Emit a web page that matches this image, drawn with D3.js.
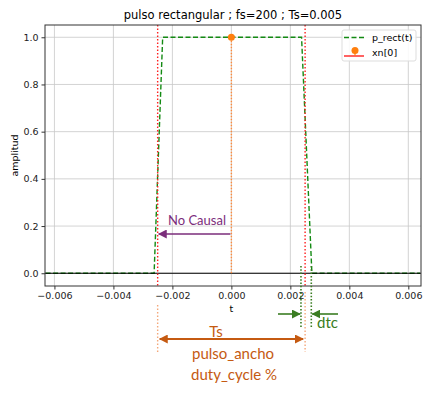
<!DOCTYPE html>
<html>
<head>
<meta charset="utf-8">
<script src="https://cdn.jsdelivr.net/npm/d3@7"></script>
<style>
  body { margin: 0; background: #fff; }
  svg { display: block; }
  .tick text { font-family: "DejaVu Sans", sans-serif; font-size: 9.5px; fill: #222; }
  .note { font-family: Lato, "Open Sans", sans-serif; }
</style>
</head>
<body>
<div id="chart"></div>
<script>
// pulse as drawn (p_rect(t))
const pulseT = [-0.0063, -0.00262, -0.00233, 0.00238, 0.00273, 0.0064];
const pulseV = [0, 0, 1, 1, 0, 0];
// single sample xn[0]
const stemT = [0];
const stemV = [1];
// pulse edges +/- Ts/2
const edges = [-0.0025, 0.0025];
// dtc marks
const dtcT = [0.00236, 0.00271];

const xTicks = [-0.006, -0.004, -0.002, 0, 0.002, 0.004, 0.006];
const yTicks = [0, 0.2, 0.4, 0.6, 0.8, 1.0];

const width = 434, height = 394;
const pL = 45, pR = 421, pT = 25, pB = 286;

const svg = d3.select("#chart").append("svg")
  .attr("width", width)
  .attr("height", height);

const x = d3.scaleLinear().domain([-0.00632, 0.00643]).range([pL, pR]);
const y = d3.scaleLinear().domain([-0.054, 1.052]).range([pB, pT]);

const defs = svg.append("defs");
function marker(id, color, size) {
  defs.append("marker")
    .attr("id", id)
    .attr("viewBox", "0 -5 10 10")
    .attr("refX", 9)
    .attr("refY", 0)
    .attr("orient", "auto-start-reverse")
    .attr("markerUnits", "userSpaceOnUse")
    .attr("markerWidth", size)
    .attr("markerHeight", size)
    .append("path")
    .attr("d", "M0,-5L10,0L0,5Z")
    .attr("fill", color);
}
marker("arPurple", "#7b2d7b", 9);
marker("arGreen", "#3a7d22", 9);
marker("arOrange", "#c55a11", 9);

// grid
const g = svg.append("g");
g.selectAll(".gx").data(xTicks).enter().append("line")
  .attr("x1", d => x(d)).attr("x2", d => x(d))
  .attr("y1", pT).attr("y2", pB)
  .attr("stroke", "#c8c8c8").attr("stroke-width", 0.8);
g.selectAll(".gy").data(yTicks).enter().append("line")
  .attr("x1", pL).attr("x2", pR)
  .attr("y1", d => y(d)).attr("y2", d => y(d))
  .attr("stroke", "#c8c8c8").attr("stroke-width", 0.8);

// axes
const fmt = d => d3.format(".3f")(d).replace("-", "\u2212");
svg.append("g")
  .attr("transform", `translate(0,${pB})`)
  .call(d3.axisBottom(x).tickValues(xTicks).tickFormat(fmt).tickSize(3.5).tickSizeOuter(0))
  .call(a => a.select(".domain").remove())
  .call(a => a.selectAll(".tick line").attr("stroke", "#333"));
svg.append("g")
  .attr("transform", `translate(${pL},0)`)
  .call(d3.axisLeft(y).tickValues(yTicks).tickFormat(d3.format(".1f")).tickSize(3.5).tickSizeOuter(0))
  .call(a => a.select(".domain").remove())
  .call(a => a.selectAll(".tick line").attr("stroke", "#333"));

// pulse
const pts = pulseT.map((t, i) => [t, pulseV[i]]);
svg.append("path")
  .datum(pts)
  .attr("d", d3.line().x(d => x(d[0])).y(d => y(d[1])))
  .attr("fill", "none")
  .attr("stroke", "#138a13")
  .attr("stroke-width", 1.4)
  .attr("stroke-dasharray", "5,2.5");

// zero line
svg.append("line")
  .attr("x1", pL).attr("x2", pR)
  .attr("y1", y(0)).attr("y2", y(0))
  .attr("stroke", "#000").attr("stroke-width", 1.2);

// edges (red dotted)
svg.selectAll(".edge").data(edges).enter().append("line")
  .attr("x1", d => x(d)).attr("x2", d => x(d))
  .attr("y1", pT).attr("y2", pB)
  .attr("stroke", "#ff2020").attr("stroke-width", 1.4)
  .attr("stroke-dasharray", "1.5,2");

// stem xn[0]
svg.selectAll(".stem").data(stemT).enter().append("line")
  .attr("x1", d => x(d)).attr("x2", d => x(d))
  .attr("y1", y(0)).attr("y2", (d, i) => y(stemV[i]))
  .attr("stroke", "#ff8a3a").attr("stroke-width", 1.4)
  .attr("stroke-dasharray", "1.5,1.5");
svg.selectAll(".dot").data(stemT).enter().append("circle")
  .attr("cx", d => x(d)).attr("cy", (d, i) => y(stemV[i]))
  .attr("r", 3.5).attr("fill", "#ff7f0e");

// frame
svg.append("rect")
  .attr("x", pL).attr("y", pT)
  .attr("width", pR - pL).attr("height", pB - pT)
  .attr("fill", "none").attr("stroke", "#333").attr("stroke-width", 1);

// labels
svg.append("text")
  .attr("x", (pL + pR) / 2).attr("y", 19)
  .attr("text-anchor", "middle")
  .style("font-family", "DejaVu Sans, sans-serif").style("font-size", "11.5px")
  .text("pulso rectangular ; fs=200 ; Ts=0.005");
svg.append("text")
  .attr("transform", `translate(18,${(pT + pB) / 2}) rotate(-90)`)
  .attr("text-anchor", "middle")
  .style("font-family", "DejaVu Sans, sans-serif").style("font-size", "9.5px")
  .text("amplitud");
svg.append("text")
  .attr("x", x(0)).attr("y", 312)
  .attr("text-anchor", "middle")
  .style("font-family", "DejaVu Sans, sans-serif").style("font-size", "9.5px")
  .text("t");

// legend
const lg = svg.append("g");
lg.append("rect")
  .attr("x", 342).attr("y", 30).attr("width", 74).attr("height", 31).attr("rx", 2)
  .attr("fill", "#fff").attr("fill-opacity", 0.85)
  .attr("stroke", "#ddd");
lg.append("line")
  .attr("x1", 344).attr("x2", 364).attr("y1", 37.5).attr("y2", 37.5)
  .attr("stroke", "#138a13").attr("stroke-width", 1.4).attr("stroke-dasharray", "5,2.5");
lg.append("line")
  .attr("x1", 344).attr("x2", 364).attr("y1", 56).attr("y2", 56)
  .attr("stroke", "#ff2020").attr("stroke-width", 1.4);
lg.append("line")
  .attr("x1", 355).attr("x2", 355).attr("y1", 56).attr("y2", 51)
  .attr("stroke", "#ff7f0e").attr("stroke-width", 1.2);
lg.append("circle").attr("cx", 355).attr("cy", 50.5).attr("r", 3.5).attr("fill", "#ff7f0e");
lg.append("text").attr("x", 372).attr("y", 41)
  .style("font-family", "DejaVu Sans, sans-serif").style("font-size", "9.5px").text("p_rect(t)");
lg.append("text").attr("x", 372).attr("y", 56)
  .style("font-family", "DejaVu Sans, sans-serif").style("font-size", "9.5px").text("xn[0]");

// annotations
const ann = svg.append("g");
ann.append("text").attr("class", "note")
  .attr("x", 197).attr("y", 225).attr("text-anchor", "middle")
  .attr("fill", "#7b2d7b").style("font-size", "13px").text("No Causal");
ann.append("line")
  .attr("x1", x(0) - 1).attr("x2", x(edges[0]) + 1)
  .attr("y1", 234).attr("y2", 234)
  .attr("stroke", "#7b2d7b").attr("stroke-width", 1.6)
  .attr("marker-end", "url(#arPurple)");

// orange dotted guides below axes
const guideStart = [305, 292];
ann.selectAll(".og").data(edges).enter().append("line")
  .attr("x1", d => x(d)).attr("x2", d => x(d))
  .attr("y1", (d, i) => guideStart[i]).attr("y2", 352)
  .attr("stroke", "#f4a77a").attr("stroke-width", 1.4)
  .attr("stroke-dasharray", "1.5,2");
ann.append("line")
  .attr("x1", x(edges[0]) + 2).attr("x2", x(edges[1]) - 2)
  .attr("y1", 339).attr("y2", 339)
  .attr("stroke", "#c55a11").attr("stroke-width", 1.8)
  .attr("marker-start", "url(#arOrange)")
  .attr("marker-end", "url(#arOrange)");
ann.append("text").attr("class", "note")
  .attr("x", 216).attr("y", 337).attr("text-anchor", "middle")
  .attr("fill", "#c55a11").style("font-size", "15px").text("Ts");
ann.append("text").attr("class", "note")
  .attr("x", 233).attr("y", 359).attr("text-anchor", "middle")
  .attr("fill", "#c55a11").style("font-size", "15px").text("pulso_ancho");
ann.append("text").attr("class", "note")
  .attr("x", 234).attr("y", 380).attr("text-anchor", "middle")
  .attr("fill", "#c55a11").style("font-size", "15px").text("duty_cycle %");

// dtc marks
ann.selectAll(".dg").data(dtcT).enter().append("line")
  .attr("x1", d => x(d)).attr("x2", d => x(d))
  .attr("y1", 266).attr("y2", 327)
  .attr("stroke", "#3a7d22").attr("stroke-width", 1.6)
  .attr("stroke-dasharray", "1.5,1.8");
ann.append("line")
  .attr("x1", 278).attr("x2", x(dtcT[0]) - 1)
  .attr("y1", 314).attr("y2", 314)
  .attr("stroke", "#3a7d22").attr("stroke-width", 1.6)
  .attr("marker-end", "url(#arGreen)");
ann.append("line")
  .attr("x1", 338).attr("x2", x(dtcT[1]) + 1)
  .attr("y1", 314).attr("y2", 314)
  .attr("stroke", "#3a7d22").attr("stroke-width", 1.6)
  .attr("marker-end", "url(#arGreen)");
ann.append("text").attr("class", "note")
  .attr("x", 317).attr("y", 328)
  .attr("fill", "#3a7d22").style("font-size", "15px").text("dtc");
</script>
</body>
</html>
